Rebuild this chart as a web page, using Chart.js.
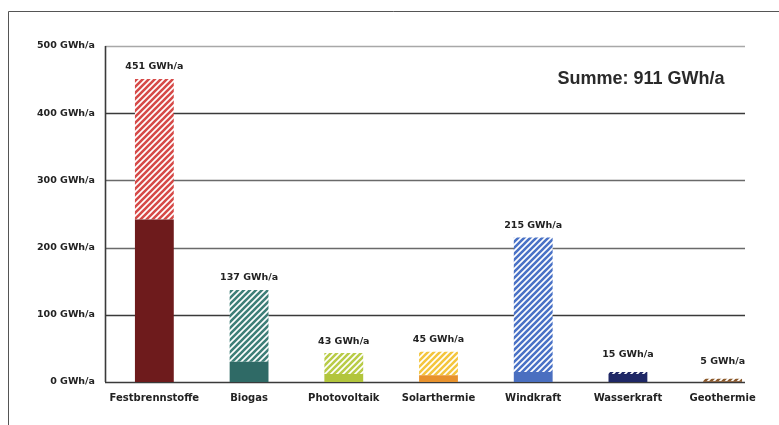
<!DOCTYPE html>
<html>
<head>
<meta charset="utf-8">
<script src="https://cdn.jsdelivr.net/npm/chart.js@4"></script>
<style>
  html, body { margin: 0; padding: 0; background: #fff; }
  #wrap { width: 779px; height: 425px; position: relative; }
</style>
</head>
<body>
<div id="wrap"><canvas id="c" width="779" height="425"></canvas></div>
<script>
// Energy sources and their annual yield (GWh/a)
const categories = ['Festbrennstoffe', 'Biogas', 'Photovoltaik', 'Solarthermie', 'Windkraft', 'Wasserkraft', 'Geothermie'];
const totals = [451, 137, 43, 45, 215, 15, 5];
const usedShare = [242, 30, 12, 10, 15, 12, 1];
const potentialShare = [209, 107, 31, 35, 200, 3, 4];
const yTicks = [0, 100, 200, 300, 400, 500];
const unit = 'GWh/a';
const sumText = 'Summe: 911 GWh/a';

const solidColors = ['#6e1b1c', '#2f6a66', '#b2c53c', '#e8922c', '#4a6fc0', '#1f2866', '#7a4a22'];
const hatchColors = ['#d64a48', '#3e7f78', '#b9cc48', '#f4c63e', '#4a72c6', '#1f2866', '#8c5a2c'];

const labelFont = '"DejaVu Sans", Verdana, sans-serif';

function hatch(color) {
  const s = 6;
  const t = document.createElement('canvas');
  t.width = s; t.height = s;
  const g = t.getContext('2d');
  g.fillStyle = '#ffffff';
  g.fillRect(0, 0, s, s);
  g.strokeStyle = color;
  g.lineWidth = 2.6;
  g.beginPath();
  g.moveTo(-1, s + 1); g.lineTo(s + 1, -1);
  g.moveTo(-1, 1); g.lineTo(1, -1);
  g.moveTo(s - 1, s + 1); g.lineTo(s + 1, s - 1);
  g.stroke();
  return g.createPattern(t, 'repeat');
}

const ctx = document.getElementById('c').getContext('2d');

// Frame, horizontal rules and the summary caption
const decor = {
  id: 'decor',
  beforeDatasetsDraw(chart) {
    const c = chart.ctx, y = chart.scales.y, a = chart.chartArea;
    const left = a.left - 2;
    const right = 745;
    c.save();
    yTicks.forEach(v => {
      const py = Math.round(y.getPixelForValue(v)) + 0.5;
      c.strokeStyle = v === 500 ? '#a8a8a8' : (v === 200 || v === 300 ? '#6a6a6a' : '#3a3a3a');
      c.lineWidth = v === 500 ? 1.5 : 1.6;
      c.beginPath(); c.moveTo(left, py); c.lineTo(right, py); c.stroke();
    });
    c.strokeStyle = '#3a3a3a';
    c.lineWidth = 1.6;
    c.beginPath();
    c.moveTo(left + 0.5, y.getPixelForValue(500));
    c.lineTo(left + 0.5, y.getPixelForValue(0));
    c.stroke();
    // outer frame
    c.strokeStyle = '#555';
    c.lineWidth = 1;
    c.beginPath();
    c.moveTo(779, 11.5); c.lineTo(8.5, 11.5); c.lineTo(8.5, 425);
    c.stroke();
    c.restore();
  },
  afterDatasetsDraw(chart) {
    const c = chart.ctx, x = chart.scales.x, y = chart.scales.y;
    c.save();
    c.fillStyle = '#222';
    c.textAlign = 'center';
    c.textBaseline = 'middle';
    c.font = 'bold 9.5px ' + labelFont;
    totals.forEach((v, i) => {
      const px = x.getPixelForValue(i);
      const py = y.getPixelForValue(v) - 12 - (v < 20 ? 5 : 0);
      c.fillText(v + ' ' + unit, px, py);
    });
    c.fillStyle = '#2a2a2a';
    c.font = 'bold 18px "Liberation Sans", Arial, sans-serif';
    c.fillText(sumText, 641, 79);
    c.restore();
  }
};

new Chart(ctx, {
  type: 'bar',
  data: {
    labels: categories,
    datasets: [
      {
        label: 'genutzt',
        data: usedShare,
        backgroundColor: solidColors,
        borderWidth: 0,
        barPercentage: 0.41,
        categoryPercentage: 1
      },
      {
        label: 'Potenzial',
        data: potentialShare,
        backgroundColor: hatchColors.map(hatch),
        borderWidth: 0,
        barPercentage: 0.41,
        categoryPercentage: 1
      }
    ]
  },
  options: {
    responsive: false,
    animation: false,
    layout: { padding: { left: 0, top: 46, right: 9, bottom: 0 } },
    plugins: { legend: { display: false }, tooltip: { enabled: false } },
    scales: {
      x: {
        stacked: true,
        grid: { display: false, drawTicks: false },
        border: { display: false },
        ticks: {
          color: '#222',
          padding: 10,
          maxRotation: 0,
          autoSkip: false,
          font: { family: labelFont, size: 10, weight: 'bold' }
        },
        afterFit(s) { s.height = 43; }
      },
      y: {
        stacked: true,
        min: 0,
        max: 500,
        grid: { display: false, drawTicks: false },
        border: { display: false },
        afterBuildTicks(s) { s.ticks = yTicks.map(v => ({ value: v })); },
        ticks: {
          color: '#222',
          padding: 12,
          font: { family: labelFont, size: 9.5, weight: 'bold' },
          callback: v => v + ' ' + unit
        },
        afterFit(s) { s.width = 107; }
      }
    }
  },
  plugins: [decor]
});
</script>
</body>
</html>
